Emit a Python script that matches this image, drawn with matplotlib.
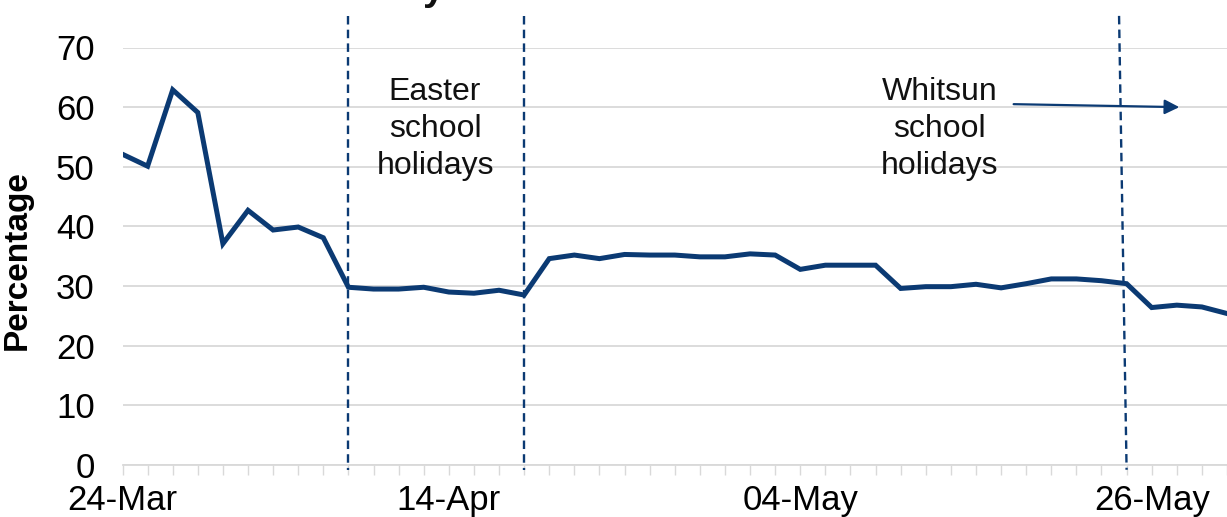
import matplotlib
matplotlib.use('Agg')
import matplotlib.pyplot as plt

# ---- data ----
tick_labels = ['24-Mar', '14-Apr', '04-May', '26-May']
tick_label_idx = [0, 13, 27, 41]
values = [52.1, 50.1, 62.9, 59.1, 37.1, 42.7, 39.4, 39.9, 38.1, 29.8,
          29.5, 29.5, 29.8, 29.0, 28.8, 29.3, 28.5, 34.6, 35.2, 34.6,
          35.3, 35.2, 35.2, 34.9, 34.9, 35.4, 35.2, 32.8, 33.5, 33.5,
          33.5, 29.6, 29.9, 29.9, 30.3, 29.7, 30.4, 31.2, 31.2, 30.9,
          30.4, 26.4, 26.8, 26.5, 25.4]
holiday_lines = [9, 16, 40]
y_ticks = [0, 10, 20, 30, 40, 50, 60, 70]

NAVY = '#0B3A73'
GRID = '#D9D9D9'
FONT = 'Liberation Sans'

plt.rcParams['font.family'] = [FONT, 'DejaVu Sans']

W, H = 1227, 517
fig = plt.figure(figsize=(W / 100, H / 100), dpi=100)
left_px, right_px, bottom_px, top_px = 122.5, 1227, 465, 47.5
ax = fig.add_axes([left_px / W, (H - bottom_px) / H,
                   (right_px - left_px) / W, (bottom_px - top_px) / H])

x = list(range(len(values)))
ax.plot(x, values, color=NAVY, lw=3.6, solid_joinstyle='miter', zorder=3)

ax.set_xlim(0, (right_px - left_px) / 25.38)
ax.set_ylim(0, 70)
ax.set_yticks(y_ticks)
ax.set_yticklabels([str(v) for v in y_ticks], fontsize=25)
ax.grid(axis='y', color=GRID, lw=1.3, zorder=0)
ax.set_axisbelow(True)

labels = [''] * len(values)
for i, lab in zip(tick_label_idx, tick_labels):
    labels[i] = lab
ax.set_xticks(x)
ax.set_xticklabels(labels, fontsize=25)

for s in ['left', 'right', 'top']:
    ax.spines[s].set_visible(False)
ax.spines['bottom'].set_color(GRID)
ax.spines['bottom'].set_linewidth(1.3)
ax.tick_params(axis='x', length=7, width=1, color=GRID, pad=7)
ax.tick_params(axis='y', length=0, pad=20)

ax.set_ylabel('Percentage', fontsize=24, fontweight='bold')
ax.yaxis.set_label_coords(-0.081, 0.49)

# holiday boundaries (dashed)
for i, xi in enumerate(holiday_lines):
    xt = xi - 0.3 if i == 2 else xi
    ax.plot([xt, xi], [75.3, -0.8], color=NAVY, lw=1.7, dashes=(3.6, 2.2),
            clip_on=False, zorder=4)

ax.text(12.45, 56.4, 'Easter\nschool\nholidays', ha='center', va='center',
        fontsize=23, linespacing=1.3, color='#111111')
ax.text(32.55, 56.4, 'Whitsun\nschool\nholidays', ha='center', va='center',
        fontsize=23, linespacing=1.3, color='#111111')
ax.annotate('', xy=(42.1, 60.0), xytext=(35.5, 60.5),
            arrowprops=dict(arrowstyle='-|>', color=NAVY, lw=1.6,
                            mutation_scale=22, shrinkA=0, shrinkB=0))

# cropped title remnant (the reference shows only the bottom of this glyph)
fig.text(434 / W, 1.0, 'y', fontsize=28, fontweight='bold', ha='center',
         va='baseline', color='#111111')

fig.savefig('out.png', dpi=100)
